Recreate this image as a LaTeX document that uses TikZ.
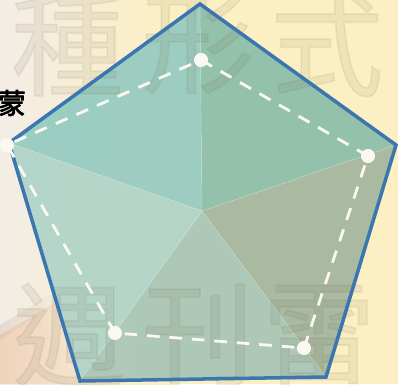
\documentclass[tikz,border=0pt]{standalone}
\usepackage{fontspec}
\usepackage{xcolor}
\usepackage{tikz}
\usetikzlibrary{fadings}
\newfontfamily\cjk[FakeBold=1.5]{Noto Sans CJK TC}
\newfontfamily\cjkbold[FakeBold=2.5]{Noto Sans CJK TC}
\definecolor{paper}{HTML}{FCEFC3}
\definecolor{pale}{HTML}{F3EDE6}
\definecolor{peach}{HTML}{F0CDB0}
\definecolor{smear}{HTML}{CBBBA8}
\definecolor{ink}{HTML}{6A6040}
\definecolor{edge}{HTML}{3B76B1}
\definecolor{dotc}{HTML}{FBF8F1}
\definecolor{secA}{HTML}{93CAC0}
\definecolor{secB}{HTML}{89BCA9}
\definecolor{secC}{HTML}{A0B59E}
\definecolor{secD}{HTML}{A6C4B7}
\definecolor{secE}{HTML}{ADD3C7}
\tikzset{
  bigch/.style={text=ink, text opacity=0.09, font=\cjk\fontsize{80}{80}\selectfont, inner sep=0pt},
  sec/.style={fill opacity=0.9, draw=none},
  seam/.style={draw=white, draw opacity=0.35, line width=0.3pt},
  rim/.style={draw=edge, line width=2.5pt, line join=miter},
  val/.style={draw=dotc, line width=2pt, dash pattern=on 9pt off 7pt},
  dot/.style={circle, fill=dotc, inner sep=0pt, minimum size=10pt},
  lab/.style={text=black, font=\cjkbold\fontsize{20}{20}\selectfont, inner sep=0pt},
}
\begin{document}
\begin{tikzpicture}[x=0.25mm,y=-0.25mm]
  \useasboundingbox (0,0) rectangle (398,384);
  % background
  \fill[paper] (0,0) rectangle (398,384);
  \shade[left color=pale, right color=paper] (0,0) rectangle (170,384);
  \fill[peach, fill opacity=0.8, path fading=east] (0,384) -- (0,335) -- (60,300) -- (120,384) -- cycle;
  \fill[smear, fill opacity=0.35, path fading=east] (0,340) -- (0,325) -- (55,292) -- (62,300) -- cycle;
  % pentagon
  \coordinate (O) at (202,211);
  \coordinate (P1) at (200,4);
  \coordinate (P2) at (396,145);
  \coordinate (P3) at (326,377);
  \coordinate (P4) at (80,381);
  \coordinate (P5) at (9,143);
  \fill[sec,secA] (O)--(P5)--(P1)--cycle;
  \fill[sec,secB] (O)--(P1)--(P2)--cycle;
  \fill[sec,secC] (O)--(P2)--(P3)--cycle;
  \fill[sec,secD] (O)--(P3)--(P4)--cycle;
  \fill[sec,secE] (O)--(P4)--(P5)--cycle;
  \draw[seam] (O)--(P1) (O)--(P2) (O)--(P3) (O)--(P4) (O)--(P5);
  % watermark
  \node[bigch] (ch1) at (67,45) {種};
  \node[bigch] (ch2) at (198,43) {形};
  \node[bigch] (ch3) at (327,45) {式};
  \node[bigch] (ch4) at (69,335) {週};
  \node[bigch] (ch5) at (198,335) {刊};
  \node[bigch] (ch6) at (319,335) {雷};
  \draw[rim] (P1)--(P2)--(P3)--(P4)--(P5)--cycle;
  \node[lab] (name) at (12,103) {蒙};
  % values
  \node[dot] (D1) at (201,60) {};
  \node[dot] (D2) at (368,156) {};
  \node[dot] (D3) at (304,348) {};
  \node[dot] (D4) at (115,333) {};
  \node[dot] (D5) at (7,145) {};
  \draw[val] (D1.center)--(D2.center)--(D3.center)--(D4.center)--(D5.center)--cycle;
\end{tikzpicture}
\end{document}
